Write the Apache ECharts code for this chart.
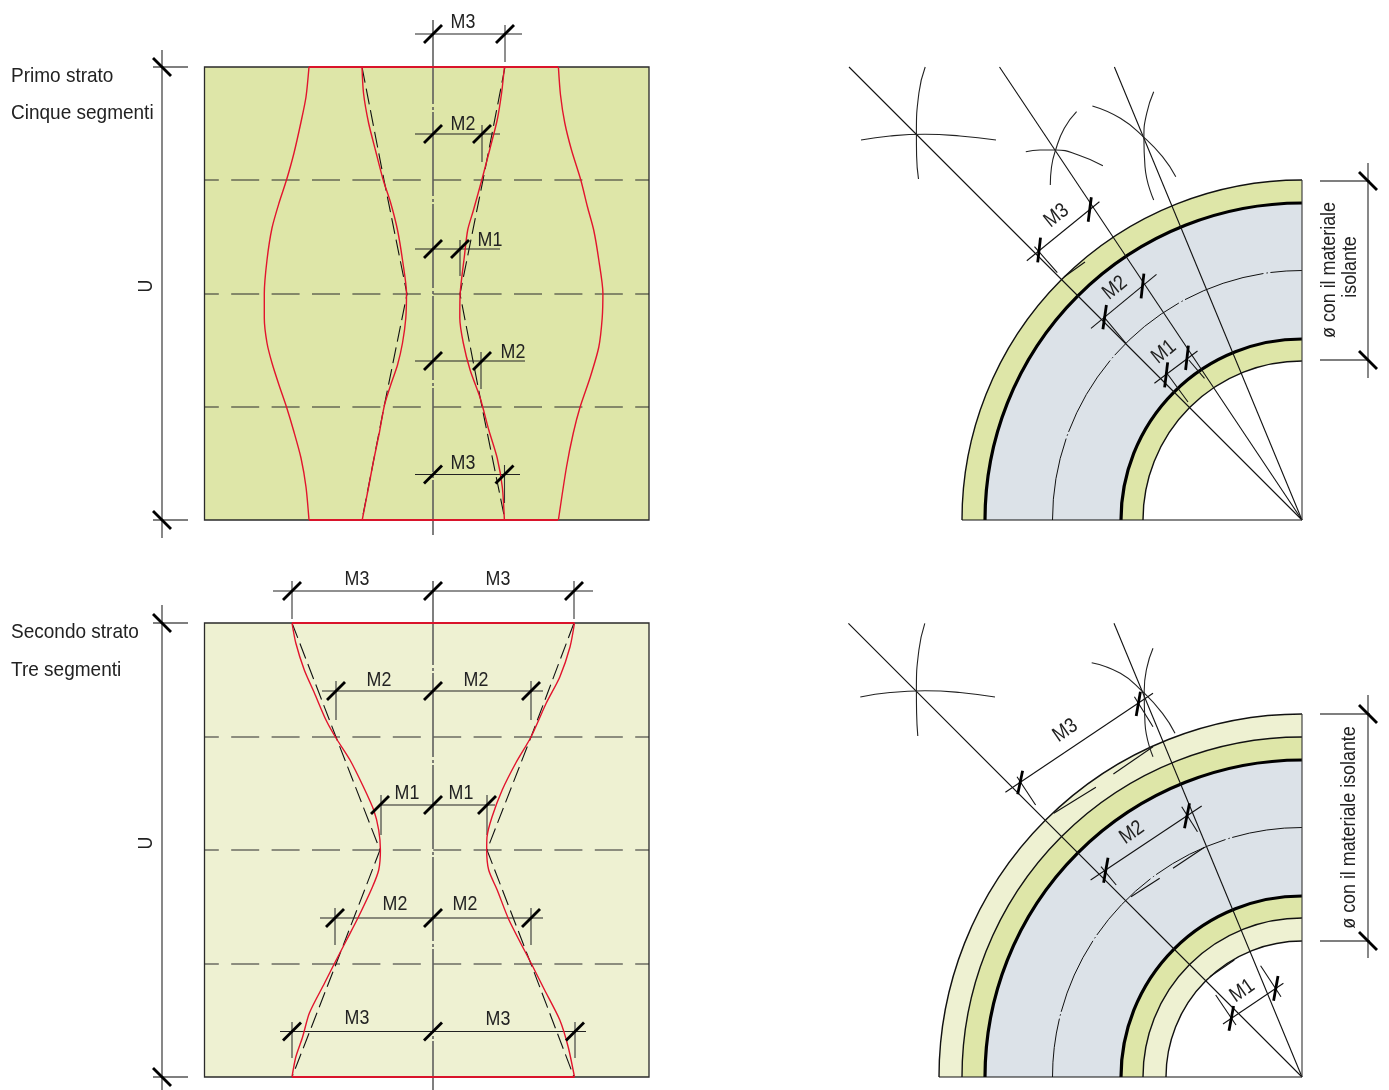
<!DOCTYPE html>
<html><head><meta charset="utf-8">
<style>html,body{margin:0;padding:0;background:#fff}#c{width:1389px;height:1090px}</style>
<script src="https://cdn.jsdelivr.net/npm/echarts@6/dist/echarts.min.js"></script>
</head><body><div id="c"></div>
<script>
// ---------- left panels ----------
const panelRects = [[204.5,67,649,520,'#DEE6A8'],[204.5,623,649,1077,'#EEF1D2']];
const foldLines = [[204.5,180,649,180],[204.5,294,649,294],[204.5,407,649,407],[204.5,737,649,737],[204.5,850,649,850],[204.5,964,649,964]];
const redEdges = [[309,67,558,67],[362,67,505,67],[309,520,558,520],[292,623,574.5,623],[292,1077,574.5,1077]];
const redOuterLeft1 = [[309,67],[306,97],[301,122],[294,153],[286.5,180],[279,203],[272,228],[267,260],[264.3,293.5],[264.3,318],[267,343],[272,363],[279,385],[286.5,407],[294,432],[301,458],[306,487],[309,520]];
const redInnerLeft1 = [[362,67],[363.5,93],[368.6,123],[375.4,150],[383.2,180],[390.7,203],[397.5,230],[402.5,260],[406.5,293],[405.8,318],[402.5,343],[397.5,365],[390.7,385],[384.5,405],[379.5,432],[373.7,460],[368.6,487],[362.2,520]];
const redInnerRight1 = [[504.4,67],[501.6,93],[497.2,120],[490.4,147],[482.6,177],[473.5,210],[467.7,230],[464.3,257],[460.2,293],[459.8,318],[463.3,343],[470.1,370],[480.2,398],[488.8,430],[497.2,458],[502.3,487],[504.4,520]];
const redOuterRight1 = [[558.4,67],[560.5,95],[564.8,123],[571.5,150],[580.8,180],[587.5,207],[593.7,230],[598.8,260],[602.9,293],[602.2,318],[598.8,347],[590.3,377],[580.1,407],[573.3,433],[566.5,467],[558.4,520]];
const dashedGuides1 = [[[362,67],[384,180],[407,294],[384,407],[362,520]],[[505,67],[483,180],[460,294],[482,407],[505,520]]];
const redLeft2 = [[292,623],[295.8,643],[304.3,670],[314.4,693],[326,720],[336,738],[350,760],[363.5,787],[373.7,810],[378.7,830],[380.4,850],[378.7,870],[372,888],[358.4,917],[346.6,940],[334.7,963],[324.6,983],[309.4,1013],[302.6,1037],[295.8,1057],[292,1077]];
const redRight2 = [[574.5,623],[570,647],[559.8,677],[546.3,703],[531,737],[515.8,763],[502.2,790],[492,817],[487,837],[486.7,850],[488.7,870],[497.2,890],[509,920],[531,963],[544.6,990],[559.8,1020],[568.2,1047],[574.5,1077]];
const dashedGuides2 = [[[292,623],[336,737],[380,850],[336,964],[292,1077]],[[574,623],[531,737],[487,850],[531,964],[574,1077]]];
const centerAxes = [[433,20,433,535],[433,581,433,1090]];
const dimLines = [[415,34,522,34],[415,134,500,134],[415,249,500,249],[415,361,525,361],[415,474.5,520,474.5],
  [273,591,593,591],[322,691,543,691],[380,805,495,805],[320,918,543,918],[280,1031.5,586,1031.5]];
const extLines = [[505,25,505,62],[482,125,482,162],[460,240,460,276],[481,352,481,389],[504.5,465,504.5,503],
  [292,581,292,619],[574,581,574,619],[336,681,336,720],[531,681,531,720],[381,795,381,835],[487,795,487,835],[335,908,335,945],[531,908,531,945],[292,1022,292,1058],[575,1022,575,1058]];
const uLines = [[162,50,162,538],[153,67,188,67],[153,520,188,520],[162,605,162,1090],[153,623,188,623],[153,1077,188,1077],
  [1368,163,1368,378],[1320,181,1370,181],[1320,360,1368,360],[1368,695,1368,958],[1320,714,1370,714],[1320,941,1370,941]];
const slashUp = [[433,34],[505,34],[433,134],[482,134],[433,249],[460,249],[433,361],[482,361],[433,474.5],[504.5,474.5],
  [292,591],[433,591],[574,591],[336,691],[433,691],[531,691],[380,805],[433,805],[487,805],[335,918],[433,918],[531,918],[292,1031.5],[433,1031.5],[575,1031.5]];
const slashDown = [[162,67],[162,520],[162,623],[162,1077],[1368,181],[1368,360],[1368,714],[1368,941]];
// ---------- right panels: rings [cx, cy, r0, r] ----------
const ringsTop = [[1302,520,317,340,'#DEE6A8'],[1302,520,181,317,'#DCE2E8'],[1302,520,159,181,'#DEE6A8']];
const ringsBottom = [[1302,1077,340,363,'#EEF1D2'],[1302,1077,317,340,'#DEE6A8'],[1302,1077,181,317,'#DCE2E8'],[1302,1077,159,181,'#DEE6A8'],[1302,1077,136,159,'#EEF1D2']];
const thinArcs = [[1302,520,340],[1302,520,159],[1302,1077,363],[1302,1077,340],[1302,1077,159],[1302,1077,136]];
const thickArcs = [[1302,520,317],[1302,520,181],[1302,1077,317],[1302,1077,181]];
const axisArcTop = [[1302,520,249.5]];
const axisArcBottom = [[1302,1077,249.5]];
const rayLines = [[849,67,1302,520],[999.5,67,1302,520],[1114.4,67,1302,520],[848.4,623.3,1302,1077],[1114,623.3,1302,1077],
  [962,520,1302,520],[939,1077,1302,1077]];
const edgeLines = [[1302,180,1302,520],[1302,714,1302,1077]];
const compassArcs = [
 [[861,140],[890,136],[925,134.3],[960,136],[996,140]],
 [[925.2,67],[918.9,93],[916.4,134],[916.6,156],[918.5,179]],
 [[1025.8,151.7],[1040,150],[1055.6,150],[1078.3,155],[1102.9,165.7]],
 [[1076.6,111.7],[1064.3,128.3],[1055.6,150],[1051.5,167],[1050.3,185]],
 [[1092.4,106],[1120.4,118.3],[1143.9,137.3],[1162.5,156.7],[1175.8,176.7]],
 [[1153.7,91.7],[1146.7,113.3],[1143.9,137.3],[1145,166.7],[1153.7,200]],
 [[860.3,697],[890,692.5],[925,690.8],[960,692.5],[995,697]],
 [[924.8,623.3],[918.9,650],[916.4,691],[916.6,713],[917.8,736]],
 [[1091.7,662.7],[1120.4,673.3],[1142,691],[1162.5,713.3],[1175,733.3]],
 [[1153,648.3],[1146.7,668.3],[1144.2,691],[1145,723.3],[1153,756.7]]
];
const arcDimLines = [[1026.8,260.7,1099.4,201.7],[1091,328.3,1156.5,274.3],[1154.4,383.3,1197.5,351],
  [1034.5,246.7,1057.3,272.7],[1103.6,316.7,1125.7,343],[1188.8,360,1204.5,378.3],[1166,372,1188,402],
  [1005.4,792.3,1153,693.3],[1090.6,880,1201.7,806],[1223,1024,1283.4,983.3],
  [1017,776.7,1035.6,805],[1134.4,696.7,1153,726.7],[1101,866.7,1116.2,885],[1181.7,806.7,1197.5,831.7],[1215.7,995,1236,1025],[1260.6,965.7,1281,996.7],
  [1053.8,813.3,1095.9,787.3],[1113.4,774,1153,746.7],[1131,896.7,1159.7,878.3],[1173,868.3,1204.5,847.3],[1209.8,976.7,1234.3,960],[1064,277,1085,262]];
const arcTicks = [[1040.5,237.7,1037.7,262.3],[1091.3,197.3,1088.2,221.7],[1106.4,305,1102.9,329.3],[1143.9,273.7,1141.1,298.3],[1167.7,362.3,1164.6,387.3],[1188.4,345.7,1185.6,370],
  [1022.6,770.7,1017.7,794.3],[1140.4,691.7,1136.2,716],[1108,857.7,1103.6,882.7],[1189.5,803.3,1184.5,828.3],[1233.6,1006,1229,1030.7],[1278,976,1273.6,1000.7]];
// ---------- text ----------
const sideTexts = [['Primo strato',11,76],['Cinque segmenti',11,113],['Secondo strato',11,632],['Tre segmenti',11,670]];
const flatLabels = [['M3',463,22],['M2',463,124],['M1',490,240],['M2',513,352],['M3',463,463],
 ['M3',357,579],['M3',498,579],['M2',379,680],['M2',476,680],['M1',407,793],['M1',461,793],['M2',395,904],['M2',465,904],['M3',357,1018],['M3',498,1019]];
const slantLabels = [['M3',1056.6,215.7,39],['M2',1115,288,39],['M1',1164,352,39],['M3',1065.4,730.7,35],['M2',1132,832.7,35],['M1',1242.4,991,35]];
const verticalLabels = [['U',146,286],['U',146,843],['ø con il materiale',1329.5,270],['isolante',1350,267],['ø con il materiale isolante',1349,827.5]];

const FONT = '"Liberation Sans",sans-serif';
const TXT = '#222';

function segs(list, style, z){
  return {type:'custom',coordinateSystem:'cartesian2d',silent:true,z:z,clip:false,data:list,
    encode:{x:[0,2],y:[1,3]},
    renderItem:(p,api)=>{
      const a=api.coord([api.value(0),api.value(1)]),b=api.coord([api.value(2),api.value(3)]);
      return {type:'line',shape:{x1:a[0],y1:a[1],x2:b[0],y2:b[1]},style:Object.assign({fill:null},style)};
    }};
}
function poly(points, color, width, z, smooth, dash){
  return {type:'line',data:points,showSymbol:false,silent:true,z:z,clip:false,smooth:smooth||false,
    lineStyle:{color:color,width:width,type:dash||'solid',cap:'butt',join:'miter'}};
}
function slashes(list, sign){
  return {type:'custom',coordinateSystem:'cartesian2d',silent:true,z:8,clip:false,data:list,
    renderItem:(p,api)=>{
      const c=api.coord([api.value(0),api.value(1)]),s=api.size([9,9]);
      return {type:'line',shape:{x1:c[0]-s[0],y1:c[1]-sign*s[1],x2:c[0]+s[0],y2:c[1]+sign*s[1]},style:{stroke:'#000',lineWidth:2.8}};
    }};
}
function rings(list){
  return {type:'custom',coordinateSystem:'cartesian2d',silent:true,z:1,clip:false,data:list.map(r=>r.slice(0,4)),
    renderItem:(p,api)=>{
      const c=api.coord([api.value(0),api.value(1)]);
      return {type:'sector',shape:{cx:c[0],cy:c[1],r0:api.size([api.value(2),0])[0],r:api.size([api.value(3),0])[0],startAngle:Math.PI,endAngle:Math.PI*1.5},
        style:{fill:list[p.dataIndex][4],stroke:null}};
    }};
}
function arcs(list, style, z){
  return {type:'custom',coordinateSystem:'cartesian2d',silent:true,z:z,clip:false,data:list,
    renderItem:(p,api)=>{
      const c=api.coord([api.value(0),api.value(1)]);
      return {type:'arc',shape:{cx:c[0],cy:c[1],r:api.size([api.value(2),0])[0],startAngle:Math.PI,endAngle:Math.PI*1.5},
        style:Object.assign({fill:null},style)};
    }};
}
function rects(list){
  return {type:'custom',coordinateSystem:'cartesian2d',silent:true,z:1,clip:false,data:list.map(r=>r.slice(0,4)),
    renderItem:(p,api)=>{
      const a=api.coord([api.value(0),api.value(1)]),b=api.coord([api.value(2),api.value(3)]);
      return {type:'rect',shape:{x:a[0],y:a[1],width:b[0]-a[0],height:b[1]-a[1]},style:{fill:list[p.dataIndex][4],stroke:'#2a2a2a',lineWidth:1.3}};
    }};
}
function texts(list, font, align, rotOf, sx){
  return {type:'custom',coordinateSystem:'cartesian2d',silent:true,z:10,clip:false,
    data:list.map(t=>[t[1],t[2]]),
    renderItem:(p,api)=>{
      const c=api.coord([api.value(0),api.value(1)]),t=list[p.dataIndex];
      return {type:'text',x:c[0],y:c[1],rotation:rotOf(t)*Math.PI/180,scaleX:sx,scaleY:1,
        style:{text:t[0],font:font,fill:TXT,textAlign:align,textVerticalAlign:'middle'}};
    }};
}

const series = [
  rects(panelRects), rings(ringsTop), rings(ringsBottom),
  segs(foldLines,{stroke:'#2a2a2a',lineWidth:1.2,lineDash:[28,12.4],lineDashOffset:13.7},3),
  segs(centerAxes,{stroke:'#555',lineWidth:1.5,lineDash:[84,3,3,2]},3),
  ...dashedGuides1.map(d=>poly(d,'#111',1.1,4,false,[16,6])),
  ...dashedGuides2.map(d=>poly(d,'#111',1.1,4,false,[16,6])),
  segs(dimLines,{stroke:'#222',lineWidth:1.2},5),
  segs(extLines,{stroke:'#333',lineWidth:1.1},5),
  segs(uLines,{stroke:'#555',lineWidth:1.4},5),
  poly(redOuterLeft1,'#E2142D',1.4,6,0.25), poly(redInnerLeft1,'#E2142D',1.4,6,0.25),
  poly(redInnerRight1,'#E2142D',1.4,6,0.25), poly(redOuterRight1,'#E2142D',1.4,6,0.25),
  poly(redLeft2,'#E2142D',1.4,6,0.25), poly(redRight2,'#E2142D',1.4,6,0.25),
  segs(redEdges,{stroke:'#D9142B',lineWidth:1.8},6),
  slashes(slashUp,-1), slashes(slashDown,1),
  arcs(thinArcs,{stroke:'#111',lineWidth:1.4},4),
  arcs(thickArcs,{stroke:'#000',lineWidth:3.2},5),
  arcs(axisArcTop,{stroke:'#111',lineWidth:1,lineDash:[83,3,1.5,2.5]},3),
  arcs(axisArcBottom,{stroke:'#111',lineWidth:1,lineDash:[78,3,1.5,2.5],lineDashOffset:19},3),
  segs(rayLines,{stroke:'#111',lineWidth:1.1},5),
  segs(edgeLines,{stroke:'#333',lineWidth:1.1},5),
  ...compassArcs.map(a=>poly(a,'#222',1.1,5,0.5)),
  segs(arcDimLines,{stroke:'#111',lineWidth:1.1},5),
  segs(arcTicks,{stroke:'#000',lineWidth:2.8},8),
  texts(sideTexts,'21px '+FONT,'left',()=>0,0.905),
  texts(flatLabels,'21px '+FONT,'center',()=>0,0.85),
  texts(slantLabels,'21px '+FONT,'center',t=>t[3],0.85),
  texts(verticalLabels,'21px '+FONT,'center',()=>90,0.85)
];

const chart = echarts.init(document.getElementById('c'),null,{renderer:'canvas',width:1389,height:1090});
chart.setOption({
  animation:false,backgroundColor:'#fff',
  grid:{left:0,top:0,right:0,bottom:0,containLabel:false},
  xAxis:{type:'value',min:0,max:1389,show:false},
  yAxis:{type:'value',min:0,max:1090,inverse:true,show:false},
  tooltip:{show:false},
  series:series
});
</script></body></html>
